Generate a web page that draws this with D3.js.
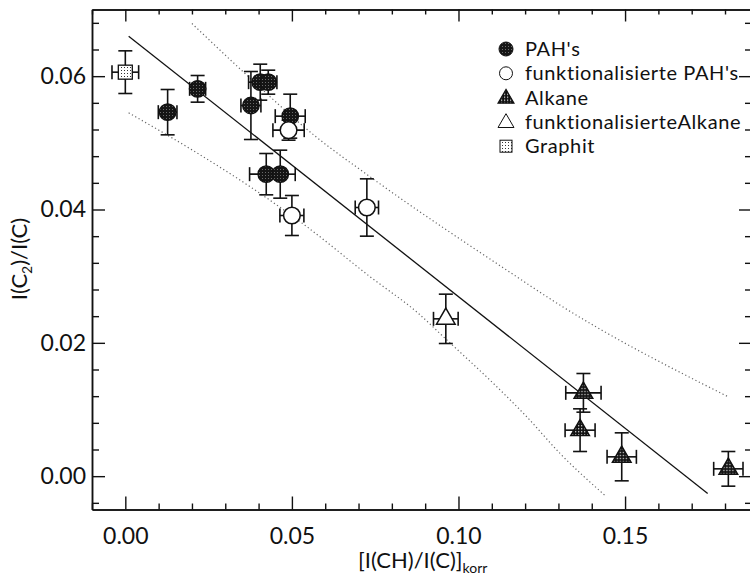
<!DOCTYPE html>
<html>
<head>
<meta charset="utf-8">
<script src="https://cdn.jsdelivr.net/npm/d3@7"></script>
<style>
  html, body { margin: 0; padding: 0; background: #fff; }
  svg { display: block; }
  text { font-family: Lato, "Open Sans", sans-serif; fill: #111; }
</style>
</head>
<body>
<svg id="chart" width="750" height="576"></svg>
<script>
// ---- data: [x, y, xErr, yErr] ----
const pahData = [
  [0.0127, 0.0546, 0.0028, 0.0034],
  [0.0217, 0.0581, 0.0024, 0.0020],
  [0.0377, 0.0556, 0.0030, 0.0051],
  [0.0405, 0.0591, 0.0035, 0.0027],
  [0.0429, 0.0591, 0.0026, 0.0018],
  [0.0495, 0.0540, 0.0045, 0.0033],
  [0.0423, 0.0453, 0.0050, 0.0031],
  [0.0465, 0.0453, 0.0045, 0.0036]
];
const funcPahData = [
  [0.0490, 0.0519, 0.0047, 0.0015],
  [0.0500, 0.0391, 0.0036, 0.0030],
  [0.0725, 0.0403, 0.0035, 0.0043]
];
const alkaneData = [
  [0.1375, 0.0125, 0.0053, 0.0029],
  [0.1365, 0.0069, 0.0045, 0.0032],
  [0.1490, 0.0029, 0.0044, 0.0036],
  [0.1810, 0.0011, 0.0044, 0.0026]
];
const funcAlkaneData = [
  [0.0962, 0.0236, 0.0037, 0.0037]
];
const graphitData = [
  [0.0000, 0.0606, 0.0040, 0.0032]
];
// regression line and band curves
const fitLine = [[0.001, 0.0660], [0.1748, -0.0026]];
const upperBand = [[0.0200, 0.0679], [0.0355, 0.0606], [0.0570, 0.0510], [0.0735, 0.0449],
                   [0.1175, 0.0299], [0.1275, 0.0266], [0.1810, 0.0119]];
const lowerBand = [[0.0010, 0.0545], [0.0195, 0.0491], [0.0375, 0.0434], [0.0540, 0.0376],
                   [0.0735, 0.0299], [0.0880, 0.0244], [0.0955, 0.0209], [0.1105, 0.0139],
                   [0.1205, 0.0089], [0.1305, 0.0034], [0.1440, -0.0029]];
// ticks
const xMajorTicks = [0.00, 0.05, 0.10, 0.15];
const xMinorTicks = [-0.01, 0.01, 0.02, 0.03, 0.04, 0.06, 0.07, 0.08, 0.09, 0.11, 0.12, 0.13, 0.14, 0.16, 0.17, 0.18];
const yMajorTicks = [0.00, 0.02, 0.04, 0.06];
const yMinorTicks = [-0.004, 0.004, 0.008, 0.012, 0.016, 0.024, 0.028, 0.032, 0.036, 0.044, 0.048, 0.052, 0.056, 0.064, 0.068];
const legendLabels = ["PAH's", "funktionalisierte PAH's", "Alkane", "funktionalisierteAlkane", "Graphit"];

// ---- layout ----
const svg = d3.select("#chart");
const L = 92, R = 751, T = 9.5, B = 509.5;
const x = d3.scaleLinear().domain([-0.01, 0.1878]).range([L, R]);
const y = d3.scaleLinear().domain([-0.005, 0.07]).range([B, T]);

// patterns
const defs = svg.append("defs");
const pPah = defs.append("pattern").attr("id", "pahPat").attr("patternUnits", "userSpaceOnUse")
  .attr("width", 3).attr("height", 3);
pPah.append("rect").attr("width", 3).attr("height", 3).attr("fill", "#151515");
pPah.append("rect").attr("x", 1).attr("y", 1).attr("width", 1).attr("height", 1).attr("fill", "#6a6a6a");
const pAlk = defs.append("pattern").attr("id", "alkPat").attr("patternUnits", "userSpaceOnUse")
  .attr("width", 3).attr("height", 3);
pAlk.append("rect").attr("width", 3).attr("height", 3).attr("fill", "#111");
pAlk.append("rect").attr("x", 1).attr("y", 1).attr("width", 1.2).attr("height", 1.2).attr("fill", "#eee");
const pGr = defs.append("pattern").attr("id", "grPat").attr("patternUnits", "userSpaceOnUse")
  .attr("width", 3).attr("height", 3);
pGr.append("rect").attr("width", 3).attr("height", 3).attr("fill", "#fff");
pGr.append("rect").attr("x", 1).attr("y", 1).attr("width", 1).attr("height", 1).attr("fill", "#333");

// ---- axes ----
const axisStyle = g => {
  g.selectAll(".domain").attr("stroke", "#111").attr("stroke-width", 1.5);
  g.selectAll(".tick line").attr("stroke", "#111").attr("stroke-width", 1.4);
  g.selectAll("text").style("font-size", "23px").attr("fill", "#111");
};
// bottom
svg.append("g").attr("transform", `translate(0,${B})`)
  .call(d3.axisBottom(x).tickValues(xMajorTicks).tickSizeInner(-13).tickSizeOuter(0).tickPadding(18)
    .tickFormat(d3.format(".2f")))
  .call(axisStyle);
svg.append("g").attr("transform", `translate(0,${B})`)
  .call(d3.axisBottom(x).tickValues(xMinorTicks).tickSizeInner(-6).tickSizeOuter(0).tickFormat(""))
  .call(axisStyle);
// top
svg.append("g").attr("transform", `translate(0,${T})`)
  .call(d3.axisTop(x).tickValues(xMajorTicks).tickSizeInner(-12).tickSizeOuter(0).tickFormat(""))
  .call(axisStyle);
svg.append("g").attr("transform", `translate(0,${T})`)
  .call(d3.axisTop(x).tickValues(xMinorTicks).tickSizeInner(-5).tickSizeOuter(0).tickFormat(""))
  .call(axisStyle);
// left
svg.append("g").attr("transform", `translate(${L},0)`)
  .call(d3.axisLeft(y).tickValues(yMajorTicks).tickSizeInner(-13).tickSizeOuter(0).tickPadding(6)
    .tickFormat(d3.format(".2f")))
  .call(axisStyle);
svg.append("g").attr("transform", `translate(${L},0)`)
  .call(d3.axisLeft(y).tickValues(yMinorTicks).tickSizeInner(-7).tickSizeOuter(0).tickFormat(""))
  .call(axisStyle);
// right
svg.append("g").attr("transform", `translate(${R},0)`)
  .call(d3.axisRight(y).tickValues(yMajorTicks).tickSizeInner(-12).tickSizeOuter(0).tickFormat(""))
  .call(axisStyle);
svg.append("g").attr("transform", `translate(${R},0)`)
  .call(d3.axisRight(y).tickValues(yMinorTicks).tickSizeInner(-6).tickSizeOuter(0).tickFormat(""))
  .call(axisStyle);

// ---- axis titles ----
const xt = svg.append("text").attr("x", 358).attr("y", 568).style("font-size", "22px");
xt.append("tspan").text("[I(CH)/I(C)]");
xt.append("tspan").attr("dy", 5).style("font-size", "14px").text("korr");

const yt = svg.append("text").attr("transform", "translate(27,259) rotate(-90)")
  .attr("text-anchor", "middle").style("font-size", "22px");
yt.append("tspan").text("I(C");
yt.append("tspan").attr("dy", 5).style("font-size", "14px").text("2");
yt.append("tspan").attr("dy", -5).text(")/I(C)");

// ---- lines ----
const line = d3.line().x(d => x(d[0])).y(d => y(d[1]));
const lineCurve = d3.line().x(d => x(d[0])).y(d => y(d[1])).curve(d3.curveMonotoneX);
svg.append("path").attr("d", lineCurve(upperBand)).attr("fill", "none")
  .attr("stroke", "#666").attr("stroke-width", 1.2).attr("stroke-dasharray", "1.2,2.6");
svg.append("path").attr("d", lineCurve(lowerBand)).attr("fill", "none")
  .attr("stroke", "#666").attr("stroke-width", 1.2).attr("stroke-dasharray", "1.2,2.6");
svg.append("path").attr("d", line(fitLine)).attr("fill", "none")
  .attr("stroke", "#111").attr("stroke-width", 1.3);

// ---- error bars ----
const allData = [].concat(pahData, funcPahData, alkaneData, funcAlkaneData, graphitData);
const eb = svg.append("g").attr("stroke", "#111").attr("stroke-width", 1.6).attr("fill", "none");
const cap = 7;
allData.forEach(d => {
  const cx = x(d[0]), cy = y(d[1]);
  const x0 = x(d[0] - d[2]), x1 = x(d[0] + d[2]);
  const y0 = y(d[1] - d[3]), y1 = y(d[1] + d[3]);
  eb.append("line").attr("x1", cx).attr("x2", cx).attr("y1", y0).attr("y2", y1);
  eb.append("line").attr("x1", cx - cap).attr("x2", cx + cap).attr("y1", y0).attr("y2", y0);
  eb.append("line").attr("x1", cx - cap).attr("x2", cx + cap).attr("y1", y1).attr("y2", y1);
  eb.append("line").attr("x1", x0).attr("x2", x1).attr("y1", cy).attr("y2", cy);
  eb.append("line").attr("x1", x0).attr("x2", x0).attr("y1", cy - cap).attr("y2", cy + cap);
  eb.append("line").attr("x1", x1).attr("x2", x1).attr("y1", cy - cap).attr("y2", cy + cap);
});

// ---- markers ----
const tri = d3.symbol().type(d3.symbolTriangle).size(150);
svg.append("g").selectAll("circle").data(pahData).join("circle")
  .attr("cx", d => x(d[0])).attr("cy", d => y(d[1])).attr("r", 8.3)
  .attr("fill", "url(#pahPat)").attr("stroke", "#111").attr("stroke-width", 1.2);
svg.append("g").selectAll("circle").data(funcPahData).join("circle")
  .attr("cx", d => x(d[0])).attr("cy", d => y(d[1])).attr("r", 8.3)
  .attr("fill", "#fff").attr("stroke", "#111").attr("stroke-width", 1.5);
svg.append("g").selectAll("path").data(alkaneData).join("path")
  .attr("transform", d => `translate(${x(d[0])},${y(d[1])})`).attr("d", tri)
  .attr("fill", "url(#alkPat)").attr("stroke", "#111").attr("stroke-width", 1.5);
svg.append("g").selectAll("path").data(funcAlkaneData).join("path")
  .attr("transform", d => `translate(${x(d[0])},${y(d[1])})`).attr("d", tri)
  .attr("fill", "#fff").attr("stroke", "#111").attr("stroke-width", 1.5);
svg.append("g").selectAll("rect").data(graphitData).join("rect")
  .attr("x", d => x(d[0]) - 7).attr("y", d => y(d[1]) - 7).attr("width", 14).attr("height", 14)
  .attr("fill", "url(#grPat)").attr("stroke", "#111").attr("stroke-width", 1.3);

// ---- legend ----
const lg = svg.append("g");
const lx = 506, ly0 = 49, ldy = 24.3;
legendLabels.forEach((lab, i) => {
  const cy = ly0 + i * ldy;
  if (i === 0) lg.append("circle").attr("cx", lx).attr("cy", cy).attr("r", 7)
    .attr("fill", "url(#pahPat)").attr("stroke", "#111");
  if (i === 1) lg.append("circle").attr("cx", lx).attr("cy", cy).attr("r", 6.5)
    .attr("fill", "#fff").attr("stroke", "#111").attr("stroke-width", 1);
  if (i === 2) lg.append("path").attr("transform", `translate(${lx},${cy + 1})`)
    .attr("d", d3.symbol().type(d3.symbolTriangle).size(110)())
    .attr("fill", "url(#alkPat)").attr("stroke", "#111").attr("stroke-width", 1.2);
  if (i === 3) lg.append("path").attr("transform", `translate(${lx},${cy + 1})`)
    .attr("d", d3.symbol().type(d3.symbolTriangle).size(110)())
    .attr("fill", "#fff").attr("stroke", "#111").attr("stroke-width", 1);
  if (i === 4) lg.append("rect").attr("x", lx - 6).attr("y", cy - 6).attr("width", 12).attr("height", 12)
    .attr("fill", "url(#grPat)").attr("stroke", "#111").attr("stroke-width", 1);
  lg.append("text").attr("x", 525).attr("y", cy + 7).style("font-size", "20px")
    .style("letter-spacing", "0.6px").text(lab);
});
</script>
</body>
</html>
